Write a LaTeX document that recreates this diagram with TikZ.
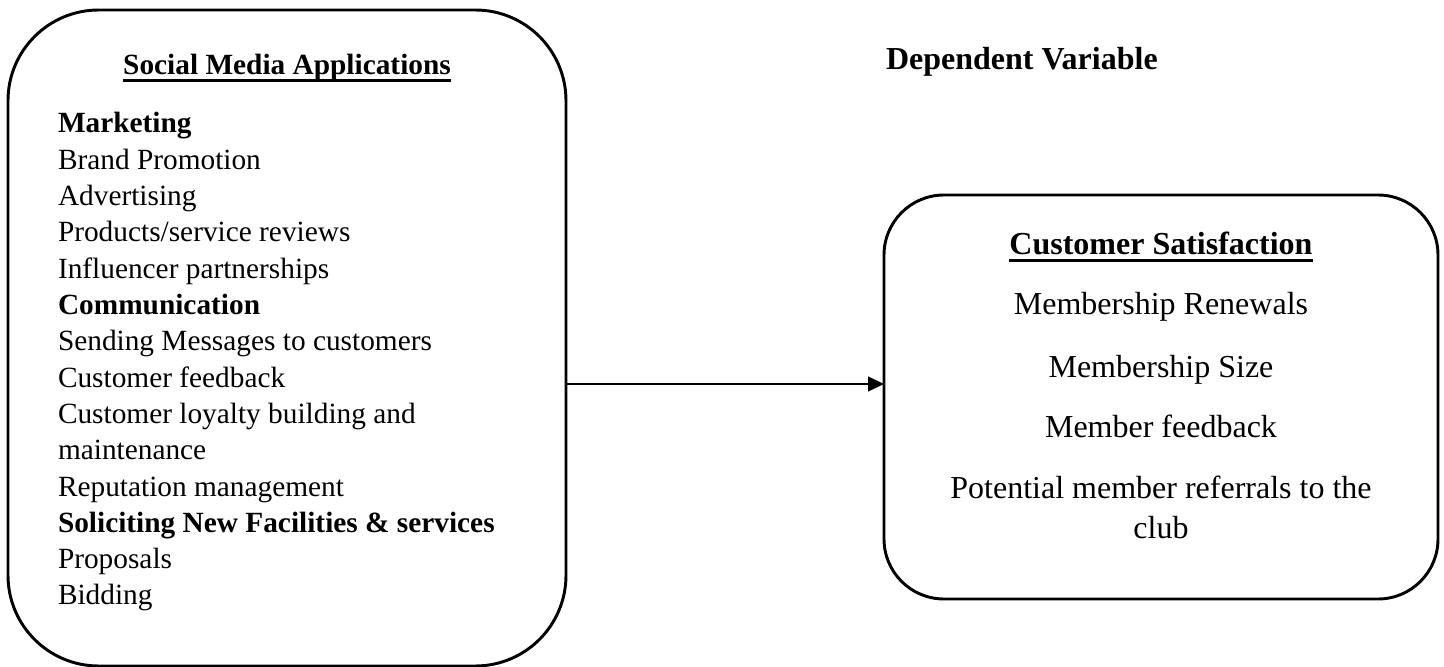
\documentclass[tikz,border=0pt]{standalone}
\usepackage{fontspec}
\setmainfont{Liberation Serif}
\usetikzlibrary{arrows.meta,positioning}

\begin{document}
\begin{tikzpicture}[x=0.375pt,y=-0.375pt,every node/.style={outer sep=0pt},
    frame/.style={draw,line width=1.1pt},
    item/.style={anchor=base west,inner sep=0pt,font=\fontsize{11}{13}\selectfont},
    ctritem/.style={anchor=base,inner sep=0pt,font=\fontsize{12}{14}\selectfont},
    heading/.style={anchor=base,inner sep=0pt,font=\fontsize{12}{14}\selectfont\bfseries},
    uline/.style={line width=1pt}]
  \useasboundingbox (0,0) rectangle (1444,667);

  % the two boxes
  \node[frame,rounded corners=34pt,minimum width=209.25pt,minimum height=246pt] (sma) at (287,338) {};
  \node[frame,rounded corners=22.5pt,minimum width=207.75pt,minimum height=151.5pt] (cs) at (1161,397) {};

  % left box
  \node[heading,font=\fontsize{11}{13}\selectfont\bfseries] (smtitle) at (287,75) {Social Media Applications};
  \draw[uline] ([yshift=-2.1pt]smtitle.base west) -- ([yshift=-2.1pt]smtitle.base east);
  \foreach \txt [count=\i from 0] in {{\textbf{Marketing}},{Brand Promotion},{Advertising},
      {Products/service reviews},{Influencer partnerships},{\textbf{Communication}},
      {Sending Messages to customers},{Customer feedback},{Customer loyalty building and},
      {maintenance},{Reputation management},{\textbf{Soliciting New Facilities \& services}},
      {Proposals},{Bidding}}
    \node[item] (sm\i) at (58,{133+36.3*\i}) {\txt};

  \node[heading,anchor=base west] (dv) at (886,70) {Dependent Variable};

  % right box
  \node[heading] (cstitle) at (1161,255) {Customer Satisfaction};
  \draw[uline] ([yshift=-2.1pt]cstitle.base west) -- ([yshift=-2.1pt]cstitle.base east);
  \foreach \txt/\yy [count=\i] in {{Membership Renewals}/315,{Membership Size}/377,
      {Member feedback}/437,{Potential member referrals to the}/498,{club}/538}
    \node[ctritem] (cs\i) at (1161,\yy) {\txt};

  % connector
  \coordinate (arr) at (0,384);
  \draw[line width=0.55pt,-{Triangle[length=6pt,width=5.6pt]}] (sma.east|-arr) -- (cs.west|-arr);
\end{tikzpicture}
\end{document}
